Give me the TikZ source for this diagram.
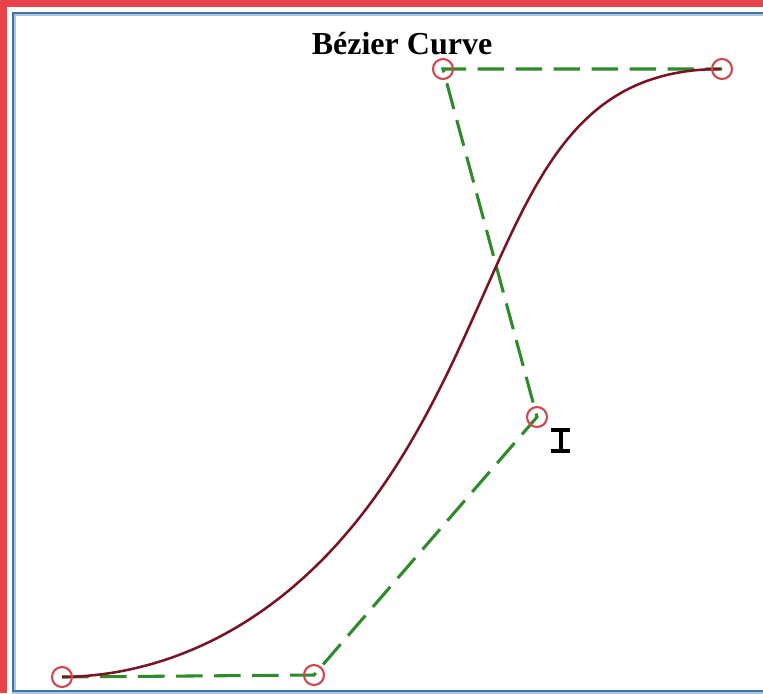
\documentclass[tikz,border=0pt]{standalone}
\usepackage{fontspec}
\setmainfont{Liberation Serif}
\definecolor{frame}{HTML}{E8434A}
\definecolor{bluebd}{HTML}{3F74A8}
\definecolor{lightbd}{HTML}{A9C6E0}
\definecolor{polyg}{HTML}{2E8B2A}
\definecolor{curvec}{HTML}{7A1424}
\definecolor{ptc}{HTML}{D2474F}
\tikzset{
  ctrl/.style={circle, draw=ptc, line width=1.6pt, minimum size=15pt, inner sep=0pt, fill=none},
  poly/.style={draw=polyg, line width=2.3pt, dash pattern=on 20pt off 8.5pt},
  bezier/.style={draw=curvec, line width=1.9pt},
  title/.style={font=\bfseries\fontsize{24}{28}\selectfont, text=black}
}
\begin{document}
\begin{tikzpicture}[x=0.75pt,y=-0.75pt]
\useasboundingbox (0,0) rectangle (763,693);
\fill[frame] (0,0) rectangle (763,693);
\fill[white] (7,7) rectangle (763,693);
\begin{scope}
\clip (0,0) rectangle (763,693);
\draw[lightbd, line width=3.5pt] (14,14) rectangle (775,692);
\draw[bluebd, line width=2pt] (13,13) rectangle (775,691);
\end{scope}
\node[title] (t) at (402,44) {Bézier Curve};
\coordinate (p0) at (62,677);
\coordinate (p1) at (314,675);
\coordinate (p2) at (537,417);
\coordinate (p3) at (443,69);
\coordinate (p4) at (722,69);
\draw[poly] (p0) -- (p1) -- (p2) -- (p3) -- (p4);
\draw[bezier] plot[domain=0:1, samples=120, smooth, variable=\t]
 ({(1-\t)^4*62 + 4*(1-\t)^3*\t*314 + 6*(1-\t)^2*\t^2*537 + 4*(1-\t)*\t^3*443 + \t^4*722},
  {(1-\t)^4*677 + 4*(1-\t)^3*\t*675 + 6*(1-\t)^2*\t^2*417 + 4*(1-\t)*\t^3*69 + \t^4*69});
\foreach \p in {p0,p1,p2,p3,p4} \node[ctrl] (c\p) at (\p) {};
% I-beam cursor
\draw[black, line width=3pt] (560.5,430) -- (560.5,451);
\draw[black, line width=2.6pt] (551,430) -- (570,430);
\draw[black, line width=2.6pt] (551,451) -- (570,451);
\end{tikzpicture}
\end{document}
